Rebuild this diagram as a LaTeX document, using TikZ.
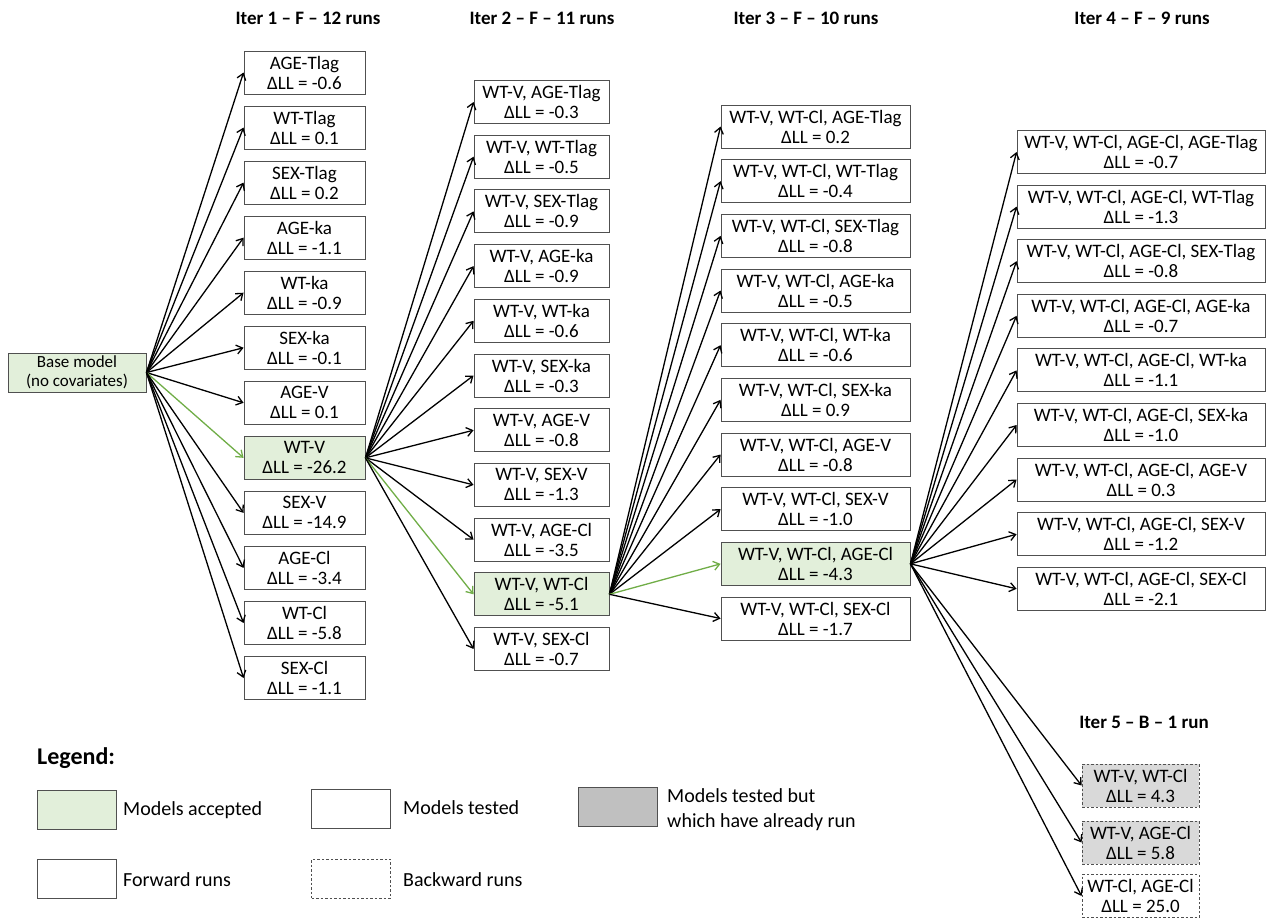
\documentclass[tikz,border=0pt]{standalone}
\usepackage{fontspec}
\setmainfont{Carlito}
\usetikzlibrary{arrows.meta}
\definecolor{accfill}{HTML}{E2EFDA}
\definecolor{accline}{HTML}{70AD47}
\definecolor{grayfill}{HTML}{D9D9D9}
\definecolor{graylegend}{HTML}{C0C0C0}
\definecolor{boxline}{HTML}{505050}
\begin{document}
\begin{tikzpicture}[x=1pt,y=-1pt,
  box/.style={draw=boxline, line width=0.9pt, fill=white, align=center,
    font=\fontsize{19}{20}\selectfont, inner sep=0.5pt, minimum height=43},
  bwd/.style={box, dash pattern=on 2.5pt off 2pt},
  hdr/.style={font=\fontsize{19}{21}\selectfont\bfseries, anchor=center},
  leg/.style={font=\fontsize{20}{25}\selectfont, anchor=west, align=left, inner sep=0pt},
  legbox/.style={draw=boxline, line width=0.9pt, minimum width=79, minimum height=39, inner sep=0pt},
  arr/.style={-{Straight Barb[length=6pt,width=9pt]}, line width=1.3pt}]
\useasboundingbox (0,0) rectangle (1269,918);

% headers
\node[hdr] (h1) at (308,18) {Iter 1 – F – 12 runs};
\node[hdr] (h2) at (542,18) {Iter 2 – F – 11 runs};
\node[hdr] (h3) at (806,18) {Iter 3 – F – 10 runs};
\node[hdr] (h4) at (1142,18) {Iter 4 – F – 9 runs};
\node[hdr] (h5) at (1144,722) {Iter 5 – B – 1 run};

% base
\node[box, fill=accfill, minimum width=138, minimum height=39, font=\fontsize{17}{19}\selectfont] (base) at (77,372.5) {Base model\\(no covariates)};

% iter 1
\foreach \t/\v/\fc/\ac [count=\i from 0] in {AGE-Tlag/-0.6/white/black, WT-Tlag/0.1/white/black, SEX-Tlag/0.2/white/black, AGE-ka/-1.1/white/black, WT-ka/-0.9/white/black, SEX-ka/-0.1/white/black, AGE-V/0.1/white/black, WT-V/-26.2/accfill/accline, SEX-V/-14.9/white/black, AGE-Cl/-3.4/white/black, WT-Cl/-5.8/white/black, SEX-Cl/-1.1/white/black}{
  \node[box, fill=\fc, minimum width=121] (a\i) at (304.5,{72.5+55.05*\i}) {\t\\ΔLL = \v};
  \draw[arr, draw=\ac] (base.east) -- (a\i.west);
}

% iter 2
\foreach \t/\v/\fc/\ac [count=\i from 0] in {AGE-Tlag/-0.3/white/black, WT-Tlag/-0.5/white/black, SEX-Tlag/-0.9/white/black, AGE-ka/-0.9/white/black, WT-ka/-0.6/white/black, SEX-ka/-0.3/white/black, AGE-V/-0.8/white/black, SEX-V/-1.3/white/black, AGE-Cl/-3.5/white/black, WT-Cl/-5.1/accfill/accline, SEX-Cl/-0.7/white/black}{
  \node[box, fill=\fc, minimum width=135] (b\i) at (541.5,{102+54.7*\i}) {WT-V, \t\\ΔLL = \v};
  \draw[arr, draw=\ac] (a7.east) -- (b\i.west);
}

% iter 3
\foreach \t/\v/\fc/\ac [count=\i from 0] in {AGE-Tlag/0.2/white/black, WT-Tlag/-0.4/white/black, SEX-Tlag/-0.8/white/black, AGE-ka/-0.5/white/black, WT-ka/-0.6/white/black, SEX-ka/0.9/white/black, AGE-V/-0.8/white/black, SEX-V/-1.0/white/black, AGE-Cl/-4.3/accfill/accline, SEX-Cl/-1.7/white/black}{
  \node[box, fill=\fc, minimum width=189] (c\i) at (815.5,{126.5+54.67*\i}) {WT-V, WT-Cl, \t\\ΔLL = \v};
  \draw[arr, draw=\ac] (b9.east) -- (c\i.west);
}

% iter 4
\foreach \t/\v [count=\i from 0] in {AGE-Tlag/-0.7, WT-Tlag/-1.3, SEX-Tlag/-0.8, AGE-ka/-0.7, WT-ka/-1.1, SEX-ka/-1.0, AGE-V/0.3, SEX-V/-1.2, SEX-Cl/-2.1}{
  \node[box, minimum width=248] (d\i) at (1141,{152+54.6*\i}) {WT-V, WT-Cl, AGE-Cl, \t\\ΔLL = \v};
  \draw[arr] (c8.east) -- (d\i.west);
}

% iter 5
\node[bwd, fill=grayfill, minimum width=117] (e0) at (1140.5,785.5) {WT-V, WT-Cl\\ΔLL = 4.3};
\node[bwd, fill=grayfill, minimum width=117] (e1) at (1140.5,842.5) {WT-V, AGE-Cl\\ΔLL = 5.8};
\node[bwd, fill=white, minimum width=117] (e2) at (1140.5,896) {WT-Cl, AGE-Cl\\ΔLL = 25.0};
\foreach \i in {0,1,2}{\draw[arr] (c8.east) -- (e\i.west);}

% legend
\node[font=\fontsize{24}{28}\selectfont\bfseries, anchor=base west, inner sep=0pt] (legt) at (37,764) {Legend:};
\node[legbox, fill=accfill] (l1) at (77,810) {};
\node[leg] (l1t) at (123,810) {Models accepted};
\node[legbox, fill=white] (l2) at (351,808.5) {};
\node[leg] (l2t) at (403,808) {Models tested};
\node[legbox, fill=graylegend] (l3) at (617.5,807) {};
\node[leg] (l3t) at (667,809.5) {Models tested but\\which have already run};
\node[legbox, fill=white] (l4) at (77,878.5) {};
\node[leg] (l4t) at (123,880) {Forward runs};
\node[legbox, fill=white, dash pattern=on 2.5pt off 2pt] (l5) at (351,878.5) {};
\node[leg] (l5t) at (403,880) {Backward runs};
\end{tikzpicture}
\end{document}
